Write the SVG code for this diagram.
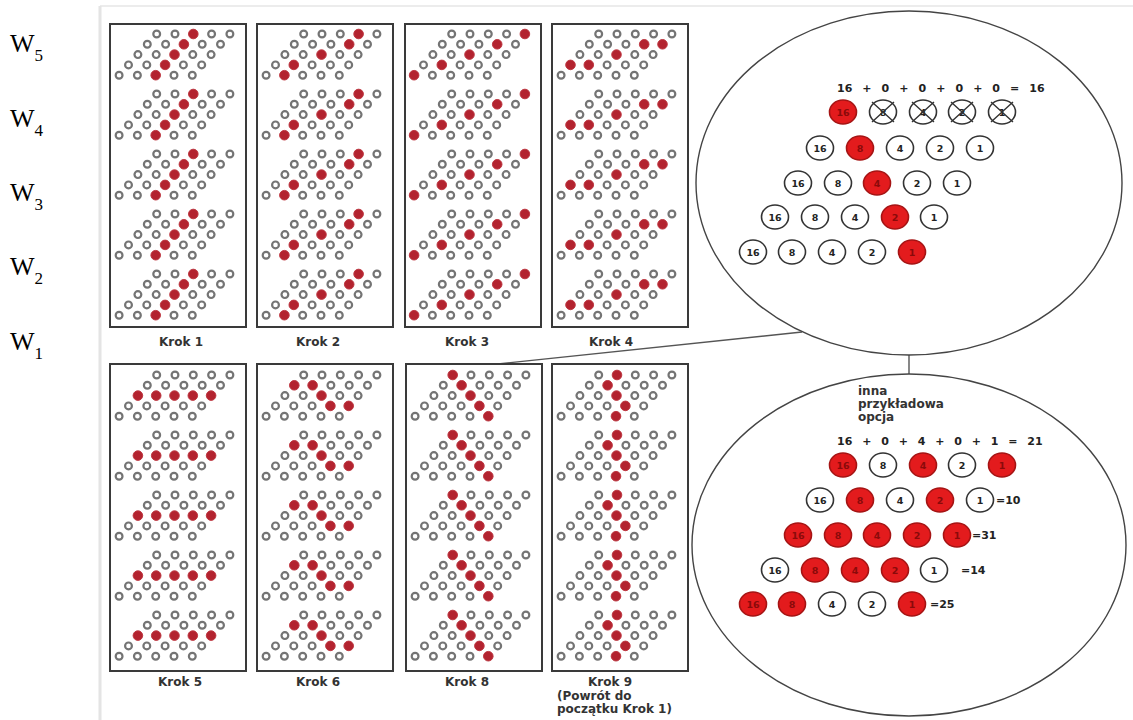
<svg xmlns="http://www.w3.org/2000/svg" xmlns:xlink="http://www.w3.org/1999/xlink" width="1133" height="720" viewBox="0 0 1133 720">
<style>
.o{fill:#fff;stroke:#747474;stroke-width:2.2}
.r{fill:#b3232f;stroke:#c03a44;stroke-width:1}
.panel{fill:#fff;stroke:#3a3a3a;stroke-width:2}
.lbl{font-family:"DejaVu Sans",Verdana,sans-serif;font-weight:bold;font-size:12px;fill:#333}
.lblm{font-family:"DejaVu Sans",Verdana,sans-serif;font-weight:bold;font-size:12px;fill:#333;text-anchor:middle}
.w{font-family:"Liberation Serif","Times New Roman",serif;font-size:26px;fill:#000}
.ws{font-family:"Liberation Serif","Times New Roman",serif;font-size:17px;fill:#000}
.ell{fill:#fff;stroke:#444;stroke-width:1.4}
.wc{fill:#fff;stroke:#333;stroke-width:1.6}
.rc{fill:#e31b1d;stroke:#a51414;stroke-width:1.6}
.nt{font-family:"DejaVu Sans",Verdana,sans-serif;font-weight:bold;font-size:9.5px;fill:#222;text-anchor:middle}
.rt{font-family:"DejaVu Sans",Verdana,sans-serif;font-weight:bold;font-size:9.5px;fill:#8a0a0a;text-anchor:middle}
.eq{font-family:"DejaVu Sans",Verdana,sans-serif;font-weight:bold;font-size:11px;fill:#222}
.x{stroke:#333;stroke-width:1.4}
.conn{stroke:#555;stroke-width:1.4;fill:none}
</style>
<defs>
<g id="grid">
<circle class="o" cx="0" cy="0" r="3.4"/><circle class="o" cx="18.3" cy="0" r="3.4"/><circle class="o" cx="36.6" cy="0" r="3.4"/><circle class="o" cx="54.9" cy="0" r="3.4"/><circle class="o" cx="73.2" cy="0" r="3.4"/>
<circle class="o" cx="-9.4" cy="10.3" r="3.4"/><circle class="o" cx="8.9" cy="10.3" r="3.4"/><circle class="o" cx="27.2" cy="10.3" r="3.4"/><circle class="o" cx="45.5" cy="10.3" r="3.4"/><circle class="o" cx="63.8" cy="10.3" r="3.4"/>
<circle class="o" cx="-18.8" cy="20.6" r="3.4"/><circle class="o" cx="-0.5" cy="20.6" r="3.4"/><circle class="o" cx="17.8" cy="20.6" r="3.4"/><circle class="o" cx="36.1" cy="20.6" r="3.4"/><circle class="o" cx="54.4" cy="20.6" r="3.4"/>
<circle class="o" cx="-28.2" cy="30.9" r="3.4"/><circle class="o" cx="-9.9" cy="30.9" r="3.4"/><circle class="o" cx="8.4" cy="30.9" r="3.4"/><circle class="o" cx="26.7" cy="30.9" r="3.4"/><circle class="o" cx="45" cy="30.9" r="3.4"/>
<circle class="o" cx="-37.6" cy="41.2" r="3.4"/><circle class="o" cx="-19.3" cy="41.2" r="3.4"/><circle class="o" cx="-1" cy="41.2" r="3.4"/><circle class="o" cx="17.3" cy="41.2" r="3.4"/><circle class="o" cx="35.6" cy="41.2" r="3.4"/>
</g>
<g id="p1"><use href="#grid"/><circle class="r" cx="36.6" cy="0" r="4.8"/><circle class="r" cx="27.2" cy="10.3" r="4.8"/><circle class="r" cx="17.8" cy="20.6" r="4.8"/><circle class="r" cx="8.4" cy="30.9" r="4.8"/><circle class="r" cx="-1" cy="41.2" r="4.8"/></g>
<g id="p2"><use href="#grid"/><circle class="r" cx="54.9" cy="0" r="4.8"/><circle class="r" cx="45.5" cy="10.3" r="4.8"/><circle class="r" cx="17.8" cy="20.6" r="4.8"/><circle class="r" cx="-9.9" cy="30.9" r="4.8"/><circle class="r" cx="-19.3" cy="41.2" r="4.8"/></g>
<g id="p3"><use href="#grid"/><circle class="r" cx="73.2" cy="0" r="4.8"/><circle class="r" cx="45.5" cy="10.3" r="4.8"/><circle class="r" cx="17.8" cy="20.6" r="4.8"/><circle class="r" cx="-9.9" cy="30.9" r="4.8"/><circle class="r" cx="-37.6" cy="41.2" r="4.8"/></g>
<g id="p4"><use href="#grid"/><circle class="r" cx="45.5" cy="10.3" r="4.8"/><circle class="r" cx="63.8" cy="10.3" r="4.8"/><circle class="r" cx="17.8" cy="20.6" r="4.8"/><circle class="r" cx="-28.2" cy="30.9" r="4.8"/><circle class="r" cx="-9.9" cy="30.9" r="4.8"/></g>
<g id="p5"><use href="#grid"/><circle class="r" cx="-18.8" cy="20.6" r="4.8"/><circle class="r" cx="-0.5" cy="20.6" r="4.8"/><circle class="r" cx="17.8" cy="20.6" r="4.8"/><circle class="r" cx="36.1" cy="20.6" r="4.8"/><circle class="r" cx="54.4" cy="20.6" r="4.8"/></g>
<g id="p6"><use href="#grid"/><circle class="r" cx="-9.4" cy="10.3" r="4.8"/><circle class="r" cx="8.9" cy="10.3" r="4.8"/><circle class="r" cx="17.8" cy="20.6" r="4.8"/><circle class="r" cx="26.7" cy="30.9" r="4.8"/><circle class="r" cx="45" cy="30.9" r="4.8"/></g>
<g id="p8"><use href="#grid"/><circle class="r" cx="0" cy="0" r="4.8"/><circle class="r" cx="8.9" cy="10.3" r="4.8"/><circle class="r" cx="17.8" cy="20.6" r="4.8"/><circle class="r" cx="26.7" cy="30.9" r="4.8"/><circle class="r" cx="35.6" cy="41.2" r="4.8"/></g>
<g id="p9"><use href="#grid"/><circle class="r" cx="18.3" cy="0" r="4.8"/><circle class="r" cx="8.9" cy="10.3" r="4.8"/><circle class="r" cx="17.8" cy="20.6" r="4.8"/><circle class="r" cx="26.7" cy="30.9" r="4.8"/><circle class="r" cx="17.3" cy="41.2" r="4.8"/></g>
</defs>
<rect width="1133" height="720" fill="#fff"/>
<line x1="100" y1="6" x2="1133" y2="6" stroke="#ececec" stroke-width="2"/>
<line x1="100" y1="6" x2="100" y2="720" stroke="#e4e4e4" stroke-width="3"/>

<g id="wlabels">
<text class="w" x="10" y="52">W<tspan class="ws" dy="9">5</tspan></text>
<text class="w" x="10" y="127">W<tspan class="ws" dy="9">4</tspan></text>
<text class="w" x="10" y="201">W<tspan class="ws" dy="9">3</tspan></text>
<text class="w" x="10" y="275">W<tspan class="ws" dy="9">2</tspan></text>
<text class="w" x="10" y="350">W<tspan class="ws" dy="9">1</tspan></text>
</g>

<g id="connectors">
<line class="conn" x1="478" y1="366" x2="802" y2="332"/>
<line class="conn" x1="909" y1="355" x2="909" y2="374"/>
</g>

<g id="krok1">
<rect class="panel" x="110" y="24" width="136" height="303"/>
<use href="#p1" x="156.7" y="34"/><use href="#p1" x="156.7" y="94"/><use href="#p1" x="156.7" y="154"/><use href="#p1" x="156.7" y="214"/><use href="#p1" x="156.7" y="274"/>
<text class="lblm" x="181" y="346">Krok 1</text>
</g>
<g id="krok2">
<rect class="panel" x="257" y="24" width="136" height="303"/>
<use href="#p2" x="303.7" y="34"/><use href="#p2" x="303.7" y="94"/><use href="#p2" x="303.7" y="154"/><use href="#p2" x="303.7" y="214"/><use href="#p2" x="303.7" y="274"/>
<text class="lblm" x="318" y="346">Krok 2</text>
</g>
<g id="krok3">
<rect class="panel" x="405" y="24" width="136" height="303"/>
<use href="#p3" x="451.7" y="34"/><use href="#p3" x="451.7" y="94"/><use href="#p3" x="451.7" y="154"/><use href="#p3" x="451.7" y="214"/><use href="#p3" x="451.7" y="274"/>
<text class="lblm" x="467" y="346">Krok 3</text>
</g>
<g id="krok4">
<rect class="panel" x="552" y="24" width="136" height="303"/>
<use href="#p4" x="598.7" y="34"/><use href="#p4" x="598.7" y="94"/><use href="#p4" x="598.7" y="154"/><use href="#p4" x="598.7" y="214"/><use href="#p4" x="598.7" y="274"/>
<text class="lblm" x="611" y="346">Krok 4</text>
</g>

<g id="krok5">
<rect class="panel" x="110" y="364" width="136" height="307"/>
<use href="#p5" x="156.7" y="375"/><use href="#p5" x="156.7" y="435"/><use href="#p5" x="156.7" y="495"/><use href="#p5" x="156.7" y="555"/><use href="#p5" x="156.7" y="615"/>
<text class="lblm" x="180" y="686">Krok 5</text>
</g>
<g id="krok6">
<rect class="panel" x="257" y="364" width="136" height="307"/>
<use href="#p6" x="303.7" y="375"/><use href="#p6" x="303.7" y="435"/><use href="#p6" x="303.7" y="495"/><use href="#p6" x="303.7" y="555"/><use href="#p6" x="303.7" y="615"/>
<text class="lblm" x="318" y="686">Krok 6</text>
</g>
<g id="krok8">
<rect class="panel" x="406" y="364" width="136" height="307"/>
<use href="#p8" x="452.7" y="375"/><use href="#p8" x="452.7" y="435"/><use href="#p8" x="452.7" y="495"/><use href="#p8" x="452.7" y="555"/><use href="#p8" x="452.7" y="615"/>
<text class="lblm" x="467" y="686">Krok 8</text>
</g>
<g id="krok9">
<rect class="panel" x="552" y="364" width="136" height="307"/>
<use href="#p9" x="598.7" y="375"/><use href="#p9" x="598.7" y="435"/><use href="#p9" x="598.7" y="495"/><use href="#p9" x="598.7" y="555"/><use href="#p9" x="598.7" y="615"/>
<text class="lblm" x="610" y="686">Krok 9</text>
<text class="lbl" x="557" y="700">(Powrót do</text>
<text class="lbl" x="557" y="713">początku Krok 1)</text>
</g>

<g id="ellipse-upper">
<ellipse class="ell" cx="909" cy="183" rx="213" ry="172"/>
<text class="eq" x="837" y="92" word-spacing="6.2">16 + 0 + 0 + 0 + 0 = 16</text>
<ellipse class="rc" cx="843" cy="112" rx="13.5" ry="12"/><text class="rt" x="843" y="115.5">16</text>
<ellipse class="wc" cx="883" cy="112" rx="13.5" ry="12"/><text class="nt" x="883" y="115.5">8</text>
<ellipse class="wc" cx="923" cy="112" rx="13.5" ry="12"/><text class="nt" x="923" y="115.5">4</text>
<ellipse class="wc" cx="962" cy="112" rx="13.5" ry="12"/><text class="nt" x="962" y="115.5">2</text>
<ellipse class="wc" cx="1002" cy="112" rx="13.5" ry="12"/><text class="nt" x="1002" y="115.5">1</text>
<path class="x" d="M872 102L894 122M872 122L894 102M912 102L934 122M912 122L934 102M951 102L973 122M951 122L973 102M991 102L1013 122M991 122L1013 102"/>
<ellipse class="wc" cx="820" cy="148" rx="13.5" ry="12"/><text class="nt" x="820" y="151.5">16</text>
<ellipse class="rc" cx="860" cy="148" rx="13.5" ry="12"/><text class="rt" x="860" y="151.5">8</text>
<ellipse class="wc" cx="900" cy="148" rx="13.5" ry="12"/><text class="nt" x="900" y="151.5">4</text>
<ellipse class="wc" cx="940" cy="148" rx="13.5" ry="12"/><text class="nt" x="940" y="151.5">2</text>
<ellipse class="wc" cx="980" cy="148" rx="13.5" ry="12"/><text class="nt" x="980" y="151.5">1</text>
<ellipse class="wc" cx="798" cy="183" rx="13.5" ry="12"/><text class="nt" x="798" y="186.5">16</text>
<ellipse class="wc" cx="838" cy="183" rx="13.5" ry="12"/><text class="nt" x="838" y="186.5">8</text>
<ellipse class="rc" cx="877" cy="183" rx="13.5" ry="12"/><text class="rt" x="877" y="186.5">4</text>
<ellipse class="wc" cx="917" cy="183" rx="13.5" ry="12"/><text class="nt" x="917" y="186.5">2</text>
<ellipse class="wc" cx="957" cy="183" rx="13.5" ry="12"/><text class="nt" x="957" y="186.5">1</text>
<ellipse class="wc" cx="775" cy="217" rx="13.5" ry="12"/><text class="nt" x="775" y="220.5">16</text>
<ellipse class="wc" cx="815" cy="217" rx="13.5" ry="12"/><text class="nt" x="815" y="220.5">8</text>
<ellipse class="wc" cx="855" cy="217" rx="13.5" ry="12"/><text class="nt" x="855" y="220.5">4</text>
<ellipse class="rc" cx="895" cy="217" rx="13.5" ry="12"/><text class="rt" x="895" y="220.5">2</text>
<ellipse class="wc" cx="934" cy="217" rx="13.5" ry="12"/><text class="nt" x="934" y="220.5">1</text>
<ellipse class="wc" cx="753" cy="252" rx="13.5" ry="12"/><text class="nt" x="753" y="255.5">16</text>
<ellipse class="wc" cx="792" cy="252" rx="13.5" ry="12"/><text class="nt" x="792" y="255.5">8</text>
<ellipse class="wc" cx="832" cy="252" rx="13.5" ry="12"/><text class="nt" x="832" y="255.5">4</text>
<ellipse class="wc" cx="872" cy="252" rx="13.5" ry="12"/><text class="nt" x="872" y="255.5">2</text>
<ellipse class="rc" cx="912" cy="252" rx="13.5" ry="12"/><text class="rt" x="912" y="255.5">1</text>
</g>

<g id="ellipse-lower">
<ellipse class="ell" cx="909" cy="545" rx="217" ry="171"/>
<text class="lbl" x="858" y="395">inna</text>
<text class="lbl" x="858" y="408">przykładowa</text>
<text class="lbl" x="858" y="421">opcja</text>
<text class="eq" x="837" y="445" word-spacing="6">16 + 0 + 4 + 0 + 1 = 21</text>
<ellipse class="rc" cx="843" cy="465" rx="13.5" ry="12"/><text class="rt" x="843" y="468.5">16</text>
<ellipse class="wc" cx="883" cy="465" rx="13.5" ry="12"/><text class="nt" x="883" y="468.5">8</text>
<ellipse class="rc" cx="923" cy="465" rx="13.5" ry="12"/><text class="rt" x="923" y="468.5">4</text>
<ellipse class="wc" cx="962" cy="465" rx="13.5" ry="12"/><text class="nt" x="962" y="468.5">2</text>
<ellipse class="rc" cx="1002" cy="465" rx="13.5" ry="12"/><text class="rt" x="1002" y="468.5">1</text>
<ellipse class="wc" cx="820" cy="500" rx="13.5" ry="12"/><text class="nt" x="820" y="503.5">16</text>
<ellipse class="rc" cx="860" cy="500" rx="13.5" ry="12"/><text class="rt" x="860" y="503.5">8</text>
<ellipse class="wc" cx="900" cy="500" rx="13.5" ry="12"/><text class="nt" x="900" y="503.5">4</text>
<ellipse class="rc" cx="940" cy="500" rx="13.5" ry="12"/><text class="rt" x="940" y="503.5">2</text>
<ellipse class="wc" cx="980" cy="500" rx="13.5" ry="12"/><text class="nt" x="980" y="503.5">1</text>
<text class="eq" x="996" y="504">=10</text>
<ellipse class="rc" cx="798" cy="535" rx="13.5" ry="12"/><text class="rt" x="798" y="538.5">16</text>
<ellipse class="rc" cx="838" cy="535" rx="13.5" ry="12"/><text class="rt" x="838" y="538.5">8</text>
<ellipse class="rc" cx="877" cy="535" rx="13.5" ry="12"/><text class="rt" x="877" y="538.5">4</text>
<ellipse class="rc" cx="917" cy="535" rx="13.5" ry="12"/><text class="rt" x="917" y="538.5">2</text>
<ellipse class="rc" cx="957" cy="535" rx="13.5" ry="12"/><text class="rt" x="957" y="538.5">1</text>
<text class="eq" x="972" y="539">=31</text>
<ellipse class="wc" cx="775" cy="570" rx="13.5" ry="12"/><text class="nt" x="775" y="573.5">16</text>
<ellipse class="rc" cx="815" cy="570" rx="13.5" ry="12"/><text class="rt" x="815" y="573.5">8</text>
<ellipse class="rc" cx="855" cy="570" rx="13.5" ry="12"/><text class="rt" x="855" y="573.5">4</text>
<ellipse class="rc" cx="895" cy="570" rx="13.5" ry="12"/><text class="rt" x="895" y="573.5">2</text>
<ellipse class="wc" cx="934" cy="570" rx="13.5" ry="12"/><text class="nt" x="934" y="573.5">1</text>
<text class="eq" x="961" y="574">=14</text>
<ellipse class="rc" cx="753" cy="604" rx="13.5" ry="12"/><text class="rt" x="753" y="607.5">16</text>
<ellipse class="rc" cx="792" cy="604" rx="13.5" ry="12"/><text class="rt" x="792" y="607.5">8</text>
<ellipse class="wc" cx="832" cy="604" rx="13.5" ry="12"/><text class="nt" x="832" y="607.5">4</text>
<ellipse class="wc" cx="872" cy="604" rx="13.5" ry="12"/><text class="nt" x="872" y="607.5">2</text>
<ellipse class="rc" cx="912" cy="604" rx="13.5" ry="12"/><text class="rt" x="912" y="607.5">1</text>
<text class="eq" x="930" y="608">=25</text>
</g>
</svg>
